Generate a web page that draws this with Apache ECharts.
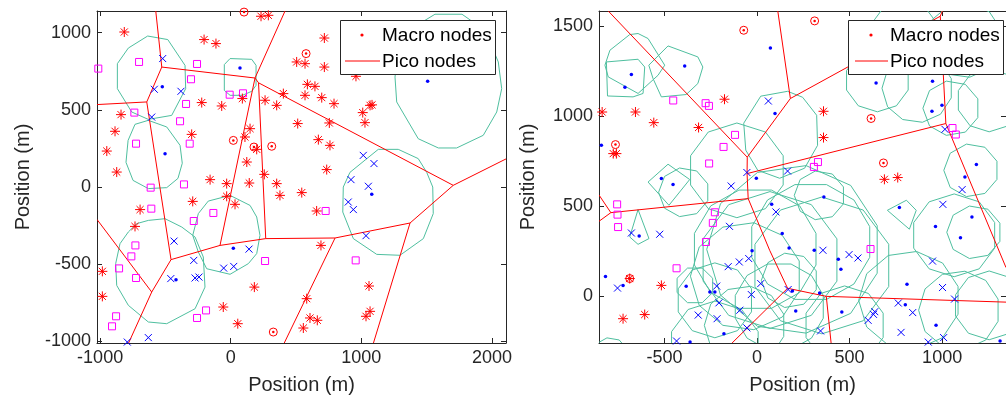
<!DOCTYPE html>
<html>
<head>
<meta charset="utf-8">
<script src="https://cdn.jsdelivr.net/npm/echarts@6/dist/echarts.min.js"></script>
<style>
  html, body { margin: 0; padding: 0; background: #fff; }
  #chart { width: 1006px; height: 409px; }
</style>
</head>
<body>
<div id="chart"></div>
<script>
// ---------------- Left panel (metres) ----------------
const leftXTicks = [-1000, 0, 1000, 2000];
const leftYTicks = [-1000, -500, 0, 500, 1000];

// red asterisk markers
const starsL = [
  [-815,1004],[-204,955],[-113,929],[232,1106],[288,1112],[505,810],[403,605],[352,529],[263,562],[89,573],
  [-69,525],[-222,547],[513,411],[-840,469],[-886,361],[-949,233],[-299,341],[148,378],[109,324],[199,244],
  [123,162],[257,82],[-873,97],[717,965],[569,799],[717,777],[587,665],[645,652],[569,594],[697,579],
  [791,540],[1067,529],[1082,532],[1011,482],[1028,417],[755,415],[671,307],[760,270],[735,113],[959,717],
  [-158,48],[-31,22],[142,26],[352,22],[377,-54],[544,-36],[-291,-93],[-31,-60],[33,-112],[-694,-146],
  [-733,-255],[-983,-546],[-983,-708],[181,-648],[-57,-777],[54,-885],[556,-913],[658,-155],[691,-378],
  [1059,-641],[582,-723],[1067,-805],[1036,-837],[607,-848],[663,-863]
];
// circled markers
const ringsL = [[102,1133],[20,302],[178,259],[314,264],[577,864],[326,-939]];
// magenta squares
const squaresL = [
  [-1014,767],[-702,810],[-258,797],[-304,698],[-342,538],[-738,482],[-388,426],[-725,281],[-314,281],
  [-8,598],[94,607],[-613,-4],[-358,17],[-608,-140],[-283,-220],[-133,-168],[-730,-378],[-761,-449],
  [-855,-527],[-725,-589],[263,-479],[-189,-799],[-258,-848],[-878,-837],[-909,-902],[727,-155],[957,-475]
];
// blue crosses
const crossesL = [
  [-521,832],[-585,633],[-381,620],[-605,453],[1015,205],[1097,152],[-434,-350],[-283,-475],[-459,-593],
  [-273,-589],[-243,-583],[-54,-525],[23,-514],[140,-402],[-631,-975],[-792,-1004],[921,48],[1054,5],
  [900,-97],[939,-146],[1036,-315]
];
// blue dots
const dotsL = [[-524,650],[71,771],[-503,216],[1508,685],[-419,-600],[20,-397],[1080,-47]];
// coverage outlines (vertex lists)
const cellsL = [
  [[-636,978],[-482,955],[-350,788],[-345,637],[-452,464],[-631,438],[-758,486],[-868,637],[-868,799],[-784,900]],
  [[-631,432],[-490,389],[-388,270],[-371,154],[-404,56],[-490,-4],[-631,-10],[-748,43],[-802,160],[-786,302],[-733,406]],
  [[-49,793],[-5,832],[161,827],[194,788],[194,659],[161,620],[89,594],[-5,594],[-49,626]],
  [[1258,712],[1271,551],[1436,313],[1590,253],[1730,253],[1934,335],[2037,486],[2075,637],[2049,810],[1947,1015],[1771,1119],[1564,1119],[1388,1028],[1281,885]],
  [[1130,244],[1283,244],[1436,184],[1501,95],[1547,0],[1551,-172],[1475,-334],[1296,-442],[1118,-436],[939,-334],[858,-162],[862,0],[913,95]],
  [[-248,-172],[-172,-91],[-5,-54],[148,-119],[199,-194],[224,-313],[199,-431],[135,-496],[-5,-565],[-184,-529],[-248,-421],[-291,-313]],
  [[-631,-216],[-503,-205],[-375,-259],[-273,-324],[-210,-453],[-197,-648],[-273,-788],[-490,-885],[-631,-874],[-784,-766],[-873,-637],[-881,-496],[-848,-367],[-784,-291],[-720,-237]]
];
// cell boundary edges
const edgesL = [
  [[-574,1140],[-528,777]], [[-528,777],[186,706]], [[-528,777],[-643,551]], [[-643,551],[-1024,534]],
  [[-643,551],[-457,-470]], [[186,706],[416,1140]], [[186,706],[213,675]], [[186,706],[-82,-378]],
  [[213,675],[1704,11]], [[213,675],[268,-334]], [[1704,11],[2108,182]], [[1704,11],[1373,-233]],
  [[1373,-233],[799,-330]], [[1373,-233],[1093,-1010]], [[799,-330],[268,-334]], [[799,-330],[410,-1010]],
  [[268,-334],[-82,-378]], [[-82,-378],[-457,-470]], [[-457,-470],[-605,-680]], [[-605,-680],[-1024,-210]],
  [[-605,-680],[-782,-1010]]
];

// ---------------- Right panel (metres) ----------------
const rightXTicks = [-500, 0, 500, 1000];
const rightYTicks = [0, 500, 1000, 1500];

const starsR = [
  [-176,1093],[-837,1022],[-657,1022],[-558,963],[-316,936],[-777,791],[-760,791],[-688,97],[-517,59],
  [-724,-126],[-607,-103],[359,1026],[359,880],[688,648],[760,658]
];
const ringsR = [[-72,1476],[-765,841],[311,1528],[616,986],[683,739],[-688,97]];
const squaresR = [
  [-453,1086],[-278,1071],[-260,1056],[-119,895],[-181,828],[-259,736],[-756,509],[-754,452],[-751,383],
  [-228,465],[-239,406],[-276,300],[-435,154],[329,744],[307,717],[613,261],[1056,933],[1074,897]
];
const crossesR = [
  [61,1083],[1015,926],[-55,686],[165,694],[-140,611],[102,467],[-149,387],[-679,350],[-526,343],[-45,208],
  [-96,189],[-156,163],[20,69],[-218,55],[-31,8],[168,36],[-206,-38],[-754,44],[-318,-106],[-216,-126],
  [-93,-79],[-55,-177],[-435,-250],[1108,591],[1004,509],[356,254],[497,230],[545,211],[948,194],[1002,47],
  [1067,-17],[763,-39],[841,-92],[636,-87],[629,-102],[600,-135],[343,-194],[778,-202],[925,-256],[1008,-231]
];
const dotsR = [
  [-679,1230],[-714,1160],[-391,1278],[72,1378],[97,1013],[-841,837],[643,1183],[948,1193],[999,1060],[945,1026],
  [-517,652],[-454,619],[-4,654],[79,509],[136,347],[-27,252],[173,267],[-637,333],[-819,109],[-724,59],
  [-383,54],[-255,22],[-228,22],[-179,-209],[-362,-255],[191,28],[338,17],[209,-83],[1185,730],[1123,661],
  [361,550],[769,491],[1161,439],[964,386],[1099,324],[309,254],[439,204],[453,148],[810,65],[801,-48],
  [458,-89],[967,-163],[1313,-250]
];
// irregular coverage outlines (vertex lists)
const cellsR = [
  [[-822,1282],[-795,1365],[-688,1452],[-643,1458],[-589,1430],[-499,1282],[-535,1226],[-643,1125],[-804,1217]],
  [[-814,1300],[-643,1315],[-607,1272],[-616,1125],[-670,1106],[-808,1111]],
  [[-585,1282],[-481,1389],[-320,1328],[-293,1272],[-320,1180],[-383,1119],[-517,1106],[-562,1208]],
  [[-72,960],[20,1110],[165,1137],[246,1104],[322,1004],[327,837],[257,710],[122,654],[4,698],[-61,810]],
  [[-589,633],[-481,732],[-364,647],[-476,504]],
  [[704,476],[807,532],[860,476],[823,371]],
  [[-643,480],[-584,319],[-643,287],[-688,328]]
];
// rounder coverage outlines: [centre x, centre y, radius, number of sides]
const roundCellsR = [
  [-109,698,263,10],[-395,576,137,9],[198,259,470,11],[70,200,380,10],[290,300,330,12],[-60,110,300,11],
  [350,170,380,10],[-10,260,340,12],[176,87,153,9],[-336,59,104,8],[-228,-274,246,10],[-66,-163,219,11],
  [338,559,137,9],[650,1198,175,10],[866,1154,191,11],[1049,1043,153,9],[1254,1087,175,10],[796,1448,191,10],
  [1119,1421,208,11],[1157,698,148,9],[1065,337,230,10],[1173,354,148,9],[823,-24,274,11],[1254,-52,191,10],
  [1092,-79,219,11],[473,-163,219,10],[-794,-329,98,9],[120,-60,246,12],[-228,-24,208,10]
];
const edgesR = [
  [[-804,1583],[-53,771]], [[112,1583],[180,1097]], [[180,1097],[-53,771]], [[180,1097],[990,1554]],
  [[990,1554],[1001,1583]], [[990,1554],[1020,958]], [[-53,771],[-54,680]], [[-54,680],[-48,541]],
  [[-54,680],[1020,958]], [[-48,541],[-790,463]], [[-790,463],[-854,561]], [[-790,463],[-854,415]],
  [[-48,541],[68,254],[165,43]], [[165,43],[374,-2]], [[374,-2],[1345,-34]], [[374,-2],[400,-261]],
  [[165,43],[-135,-261]], [[1020,958],[1345,158]]
];

// ---------------- styling ----------------
const AX = '#262626';
const FONT = '"Liberation Sans", Arial, Helvetica, sans-serif';
const RED = '#ff0000';
const TEAL = '#4fbf9f';
const MAGENTA = '#ff00ff';
const BLUE = '#0000ff';
const STAR = 'path://M0,-1L0,1M-1,0L1,0M-0.71,-0.71L0.71,0.71M-0.71,0.71L0.71,-0.71';
const CROSS = 'path://M-1,-1L1,1M-1,1L1,-1';
const plain = v => String(v);

function xAxisPair(gi, min, max, ticks) {
  const base = {
    type: 'value', gridIndex: gi, min: min, max: max, splitLine: { show: false },
    axisLine: { show: true, onZero: false, lineStyle: { color: AX, width: 1 } },
    axisTick: { show: true, inside: true, length: 5, customValues: ticks, lineStyle: { color: AX } }
  };
  return [
    Object.assign({}, base, {
      position: 'bottom',
      axisLabel: { show: true, customValues: ticks, formatter: plain, color: AX, fontSize: 18, fontFamily: FONT, margin: 6 },
      name: 'Position (m)', nameLocation: 'middle', nameGap: 32,
      nameTextStyle: { fontSize: 20, color: AX, fontFamily: FONT }
    }),
    Object.assign({}, base, { position: 'top', axisLabel: { show: false } })
  ];
}
function yAxisPair(gi, min, max, ticks, gap) {
  const base = {
    type: 'value', gridIndex: gi, min: min, max: max, splitLine: { show: false },
    axisLine: { show: true, onZero: false, lineStyle: { color: AX, width: 1 } },
    axisTick: { show: true, inside: true, length: 5, customValues: ticks, lineStyle: { color: AX } }
  };
  return [
    Object.assign({}, base, {
      position: 'left',
      axisLabel: { show: true, customValues: ticks, formatter: plain, color: AX, fontSize: 18, fontFamily: FONT, margin: 6 },
      name: 'Position (m)', nameLocation: 'middle', nameGap: gap,
      nameTextStyle: { fontSize: 20, color: AX, fontFamily: FONT }
    }),
    Object.assign({}, base, { position: 'right', axisLabel: { show: false } })
  ];
}

function outlineSeries(ai, list, color) {
  return {
    type: 'custom', xAxisIndex: ai, yAxisIndex: ai, clip: true, silent: true,
    data: list.map((p, i) => [p[0][0], p[0][1], i]),
    renderItem: function (params, api) {
      const pts = list[api.value(2)].map(v => api.coord(v));
      return { type: 'polygon', shape: { points: pts }, style: { fill: 'none', stroke: color, lineWidth: 1 } };
    }
  };
}
function roundOutlineSeries(ai, list) {
  return {
    type: 'custom', xAxisIndex: ai, yAxisIndex: ai, clip: true, silent: true,
    data: list,
    renderItem: function (params, api) {
      const cx = api.value(0), cy = api.value(1), r = api.value(2), n = api.value(3);
      const pts = [];
      for (let k = 0; k < n; k++) {
        const a = Math.PI / n + k * 2 * Math.PI / n;
        pts.push(api.coord([cx + r * Math.cos(a), cy + r * Math.sin(a)]));
      }
      return { type: 'polygon', shape: { points: pts }, style: { fill: 'none', stroke: TEAL, lineWidth: 1 } };
    }
  };
}
function edgeSeries(ai, list) {
  return {
    type: 'custom', xAxisIndex: ai, yAxisIndex: ai, clip: true, silent: true,
    data: list.map((p, i) => [p[0][0], p[0][1], i]),
    renderItem: function (params, api) {
      const pts = list[api.value(2)].map(v => api.coord(v));
      return { type: 'polyline', shape: { points: pts }, style: { fill: 'none', stroke: RED, lineWidth: 1 } };
    }
  };
}
function markSeries(ai, data, symbol, size, fill, stroke) {
  return {
    type: 'scatter', xAxisIndex: ai, yAxisIndex: ai, silent: true, data: data,
    symbol: symbol, symbolSize: size,
    itemStyle: { color: fill, borderColor: stroke || fill, borderWidth: stroke ? 1 : 0, opacity: 1 }
  };
}
function panelSeries(ai, cells, roundCells, edges, stars, rings, squares, crosses, dots) {
  const s = [outlineSeries(ai, cells, TEAL)];
  if (roundCells) s.push(roundOutlineSeries(ai, roundCells));
  s.push(edgeSeries(ai, edges));
  s.push(markSeries(ai, squares, 'rect', 7, 'rgba(0,0,0,0)', MAGENTA));
  s.push(markSeries(ai, dots, 'circle', 3.5, BLUE, null));
  s.push(markSeries(ai, crosses, CROSS, 7, 'rgba(0,0,0,0)', BLUE));
  s.push(markSeries(ai, stars, STAR, 10, 'rgba(0,0,0,0)', RED));
  s.push(markSeries(ai, rings, 'circle', 8, 'rgba(0,0,0,0)', RED));
  s.push(markSeries(ai, rings, 'circle', 2.5, RED, null));
  return s;
}

function legendBox(x, y, w, h, dotX, textX, lineX1, lineX2) {
  return [
    { type: 'rect', z: 100, shape: { x: x, y: y, width: w, height: h }, style: { fill: '#fff', stroke: AX, lineWidth: 1 } },
    { type: 'circle', z: 101, shape: { cx: dotX, cy: 35, r: 1.6 }, style: { fill: RED } },
    { type: 'text', z: 101, style: { text: 'Macro nodes', x: textX, y: 35.5, verticalAlign: 'middle', fill: '#000', font: '19px ' + FONT } },
    { type: 'line', z: 101, shape: { x1: lineX1, y1: 61, x2: lineX2, y2: 61 }, style: { stroke: RED, lineWidth: 1 } },
    { type: 'text', z: 101, style: { text: 'Pico nodes', x: textX, y: 61.5, verticalAlign: 'middle', fill: '#000', font: '19px ' + FONT } }
  ];
}

const xa = xAxisPair(0, -1024, 2108, leftXTicks).concat(xAxisPair(1, -854, 1345, rightXTicks));
const ya = yAxisPair(0, -1010, 1140, leftYTicks, 64).concat(yAxisPair(1, -261, 1583, rightYTicks, 61));
// axis indices: 0 = left panel, 2 = right panel
const option = {
  animation: false,
  backgroundColor: '#fff',
  grid: [
    { left: 97, top: 11, width: 409, height: 332 },
    { left: 599, top: 11, width: 408, height: 332 }
  ],
  xAxis: xa,
  yAxis: ya,
  series: panelSeries(0, cellsL, null, edgesL, starsL, ringsL, squaresL, crossesL, dotsL)
    .concat(panelSeries(2, cellsR, roundCellsR, edgesR, starsR, ringsR, squaresR, crossesR, dotsR)),
  graphic: legendBox(340.5, 20.5, 155, 54, 362, 382, 345, 380)
    .concat(legendBox(848.5, 20.5, 155, 54, 871, 890, 855, 888))
};

const chart = echarts.init(document.getElementById('chart'), null, { renderer: 'canvas' });
chart.setOption(option);
</script>
</body>
</html>
